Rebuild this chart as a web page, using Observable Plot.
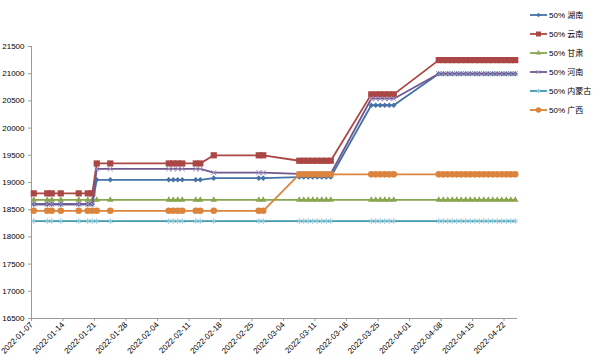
<!DOCTYPE html>
<html><head><meta charset="utf-8">
<script src="https://cdn.jsdelivr.net/npm/d3@7"></script>
<script src="https://cdn.jsdelivr.net/npm/@observablehq/plot@0.6"></script>
<style>
body{margin:0;background:#fff;}
#wrap{position:relative;width:600px;height:364px;overflow:hidden;}
#legend{position:absolute;left:528px;top:5px;font:8px "Liberation Sans","Noto Sans CJK SC",sans-serif;color:#000;}
.item{display:flex;align-items:center;height:19px;}
.item svg{display:block;margin-right:1px;}
</style></head><body><div id="wrap"><div id="chart"></div><div id="legend"></div></div>
<script>
const dates = [
"2022-01-07","2022-01-10","2022-01-11","2022-01-13","2022-01-17","2022-01-19","2022-01-20","2022-01-21","2022-01-24",
"2022-02-06","2022-02-07","2022-02-08","2022-02-09","2022-02-12","2022-02-13","2022-02-16","2022-02-26","2022-02-27",
"2022-03-07","2022-03-08","2022-03-09","2022-03-10","2022-03-11","2022-03-12","2022-03-13","2022-03-14",
"2022-03-23","2022-03-24","2022-03-25","2022-03-26","2022-03-27","2022-03-28",
"2022-04-07","2022-04-08","2022-04-09","2022-04-10","2022-04-11","2022-04-12","2022-04-13","2022-04-14","2022-04-15",
"2022-04-16","2022-04-17","2022-04-18","2022-04-19","2022-04-20","2022-04-21","2022-04-22","2022-04-23","2022-04-24"];

const seriesNames = ["50% 湖南","50% 云南","50% 甘肃","50% 河南","50% 内蒙古","50% 广西"];

const hunan = [18600,18600,18600,18600,18600,18600,18600,19050,19050,
19050,19050,19050,19050,19050,19050,19080,19080,19080,
19100,19100,19100,19100,19100,19100,19100,19100,
20420,20420,20420,20420,20420,20420,
21000,21000,21000,21000,21000,21000,21000,21000,21000,21000,21000,21000,21000,21000,21000,21000,21000,21000];

const yunnan = [18800,18800,18800,18800,18800,18800,18800,19350,19350,
19350,19350,19350,19350,19350,19350,19500,19500,19500,
19400,19400,19400,19400,19400,19400,19400,19400,
20620,20620,20620,20620,20620,20620,
21250,21250,21250,21250,21250,21250,21250,21250,21250,21250,21250,21250,21250,21250,21250,21250,21250,21250];

const gansu = [18680,18680,18680,18680,18680,18680,18680,18680,18680,
18680,18680,18680,18680,18680,18680,18680,18680,18680,
18680,18680,18680,18680,18680,18680,18680,18680,
18680,18680,18680,18680,18680,18680,
18680,18680,18680,18680,18680,18680,18680,18680,18680,18680,18680,18680,18680,18680,18680,18680,18680,18680];

const henan = [18600,18600,18600,18600,18600,18600,18600,19250,19250,
19250,19250,19250,19250,19250,19250,19180,19180,19180,
19160,19160,19160,19160,19160,19160,19160,19160,
20540,20540,20540,20540,20540,20540,
21000,21000,21000,21000,21000,21000,21000,21000,21000,21000,21000,21000,21000,21000,21000,21000,21000,21000];

const neimenggu = [18290,18290,18290,18290,18290,18290,18290,18290,18290,
18290,18290,18290,18290,18290,18290,18290,18290,18290,
18290,18290,18290,18290,18290,18290,18290,18290,
18290,18290,18290,18290,18290,18290,
18290,18290,18290,18290,18290,18290,18290,18290,18290,18290,18290,18290,18290,18290,18290,18290,18290,18290];

const guangxi = [18480,18480,18480,18480,18480,18480,18480,18480,18480,
18480,18480,18480,18480,18480,18480,18480,18480,18480,
19150,19150,19150,19150,19150,19150,19150,19150,
19150,19150,19150,19150,19150,19150,
19150,19150,19150,19150,19150,19150,19150,19150,19150,19150,19150,19150,19150,19150,19150,19150,19150,19150];

const yTicks = [16500,17000,17500,18000,18500,19000,19500,20000,20500,21000,21500];
const xTicks = ["2022-01-07","2022-01-14","2022-01-21","2022-01-28","2022-02-04","2022-02-11","2022-02-18","2022-02-25",
"2022-03-04","2022-03-11","2022-03-18","2022-03-25","2022-04-01","2022-04-08","2022-04-15","2022-04-22"];
const xDomain = ["2022-01-07","2022-04-25"];

const colors = ["#4572A7","#AA4643","#89A54E","#71588F","#4198AF","#DB843D"];
const symbols = ["diamond2","square","triangle","times","asterisk","circle"];
const radii = [2.5,3.5,2.4,2.4,2.6,3.3];
const filled = [true,true,true,false,false,true];
const markStroke = ["none","none","none","#9d8fbd","#8cc7d6","none"];

const allValues = [hunan,yunnan,gansu,henan,neimenggu,guangxi];
const parse = d3.utcParse("%Y-%m-%d");
// Excel date axis: points sit in the middle of each day
const mid = s => d3.utcHour.offset(parse(s), 12);

const marks = [];
allValues.forEach((vals, si) => {
  const data = dates.map((d, i) => ({date: mid(d), value: vals[i]}));
  marks.push(Plot.line(data, {x: "date", y: "value", stroke: colors[si], strokeWidth: 1.8}));
  marks.push(Plot.dot(data, {
    x: "date", y: "value", symbol: symbols[si], r: radii[si],
    fill: filled[si] ? colors[si] : "none",
    stroke: filled[si] ? "none" : markStroke[si],
    strokeWidth: 1
  }));
});

const chart = Plot.plot({
  width: 600, height: 364,
  marginLeft: 31, marginTop: 46, marginRight: 83, marginBottom: 46,
  style: {fontFamily: "'Liberation Sans', sans-serif", fontSize: "8px", color: "#000", background: "#fff"},
  x: {type: "utc", domain: xDomain.map(parse), axis: null, label: null},
  y: {domain: [yTicks[0], yTicks[yTicks.length - 1]], axis: null, label: null},
  marks: [
    Plot.ruleX([parse(xDomain[0])], {stroke: "#9a9a9a"}),
    Plot.ruleY([yTicks[0]], {stroke: "#9a9a9a"}),
    Plot.axisY({ticks: yTicks, tickSize: 3, tickPadding: 4, stroke: "#9a9a9a", tickFormat: d => String(d), fill: "#000", label: null}),
    Plot.axisX({ticks: xTicks.map(parse), tickSize: 3, tickPadding: 2, tickRotate: -45, stroke: "#9a9a9a",
      tickFormat: d3.utcFormat("%Y-%m-%d"), fill: "#000", label: null}),
    ...marks
  ]
});
document.getElementById("chart").appendChild(chart);

// legend
const legend = d3.select("#legend");
const symMap = {diamond2: d3.symbolDiamond2, square: d3.symbolSquare, triangle: d3.symbolTriangle,
  times: d3.symbolTimes, asterisk: d3.symbolAsterisk, circle: d3.symbolCircle};
seriesNames.forEach((name, si) => {
  const item = legend.append("div").attr("class", "item");
  const svg = item.append("svg").attr("width", 20).attr("height", 10);
  svg.append("line").attr("x1", 2).attr("x2", 19).attr("y1", 5).attr("y2", 5)
    .attr("stroke", colors[si]).attr("stroke-width", 1.8);
  const r = radii[si] * 0.8;
  svg.append("path").attr("transform", "translate(10.5,5)")
    .attr("d", d3.symbol(symMap[symbols[si]], Math.PI * r * r)())
    .attr("fill", filled[si] ? colors[si] : "none")
    .attr("stroke", filled[si] ? "none" : markStroke[si]);
  item.append("span").text(name);
});
</script></body></html>
